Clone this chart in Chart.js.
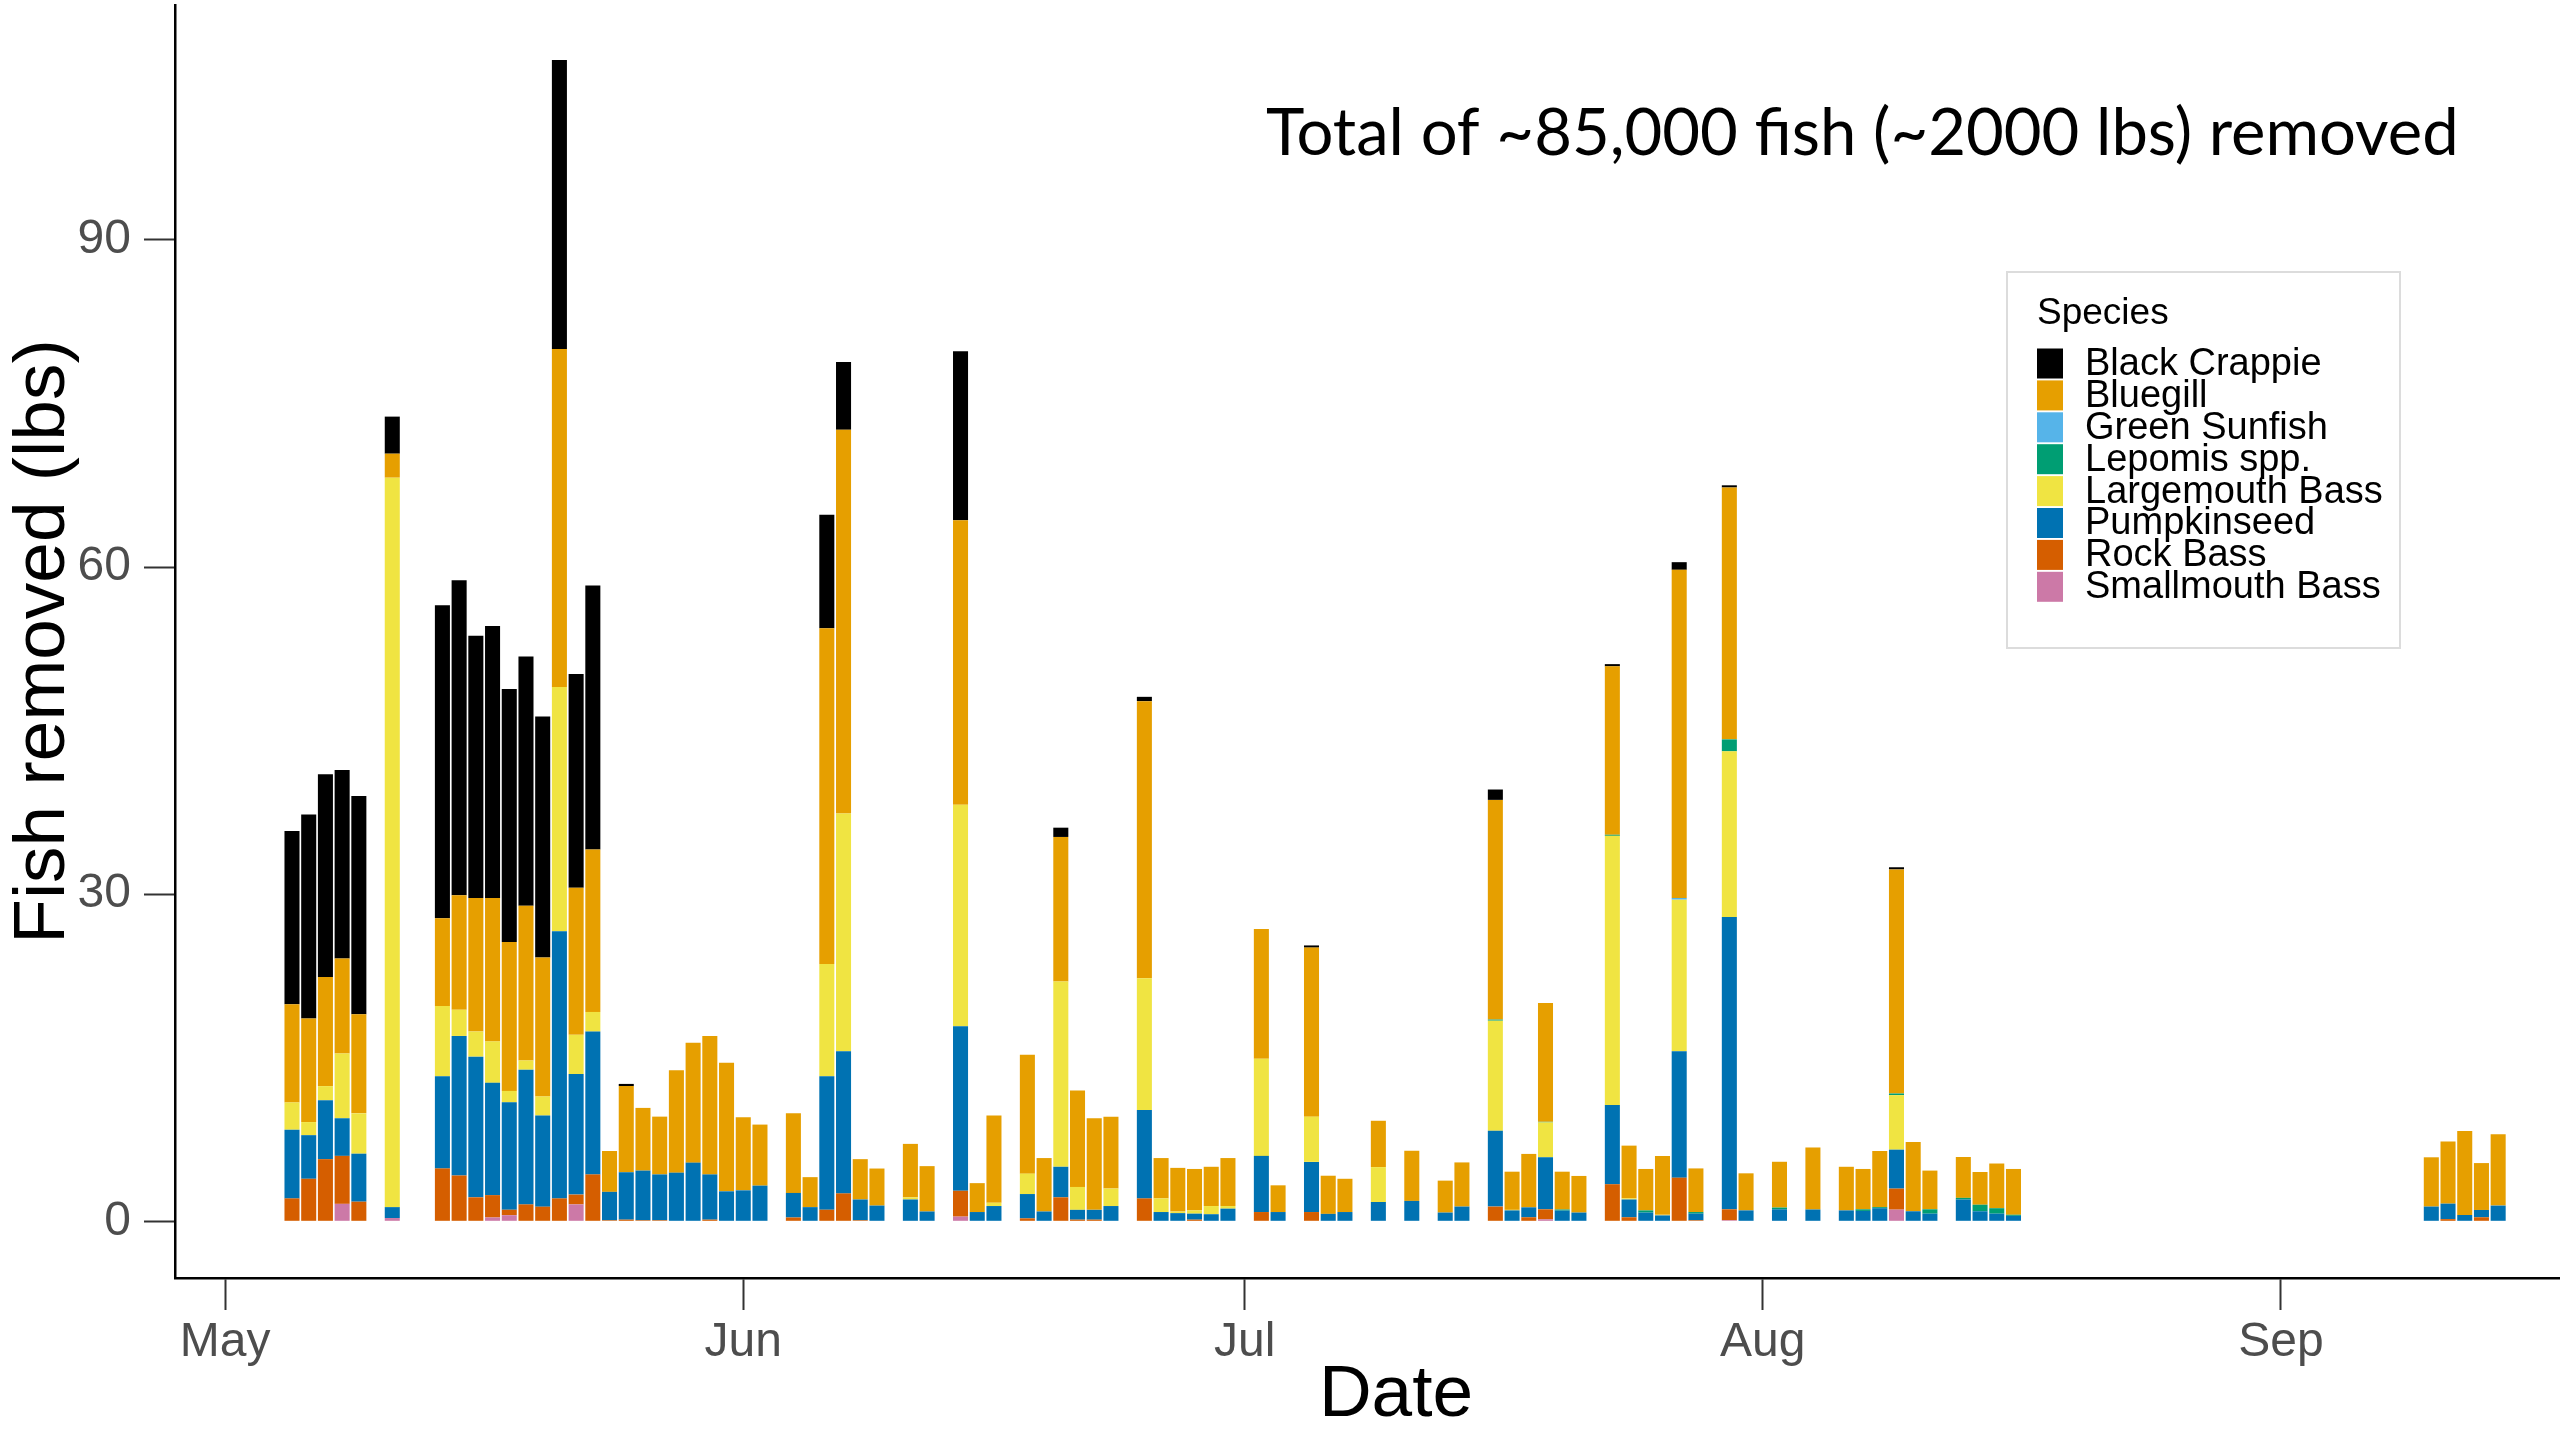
<!DOCTYPE html>
<html><head><meta charset="utf-8">
<script src="https://cdn.jsdelivr.net/npm/chart.js@4.4.1/dist/chart.umd.min.js"></script>
<style>html,body{margin:0;padding:0;background:#fff;}canvas{display:block;}</style>
</head><body>
<canvas id="c" width="2560" height="1440"></canvas>
<script>
// ---- data (month-day of each sampling date) ----
const dates = ['05-05','05-06','05-07','05-08','05-09','05-11',
'05-14','05-15','05-16','05-17','05-18','05-19','05-20','05-21','05-22','05-23',
'05-24','05-25','05-26','05-27','05-28','05-29','05-30','05-31',
'06-01','06-02','06-04','06-05','06-06','06-07','06-08','06-09','06-11','06-12','06-14','06-15','06-16','06-18','06-19','06-20','06-21','06-22','06-23','06-25','06-26','06-27','06-28','06-29','06-30',
'07-02','07-03','07-05','07-06','07-07','07-09','07-11','07-13','07-14','07-16','07-17','07-18','07-19','07-20','07-21','07-23','07-24','07-25','07-26','07-27','07-28','07-30','07-31',
'08-02','08-04','08-06','08-07','08-08','08-09','08-10','08-11','08-13','08-14','08-15','08-16',
'09-10','09-11','09-12','09-13','09-14'];

const smallmouthBass = [0,0,0,1.6,0,0.3,
0,0,0,0.35,0.56,0,0,0,1.55,0,
0,0,0,0,0,0,0,0,
0,0,0,0,0,0,0,0,0,0,0.43,0,0,0,0,0,0,0,0,0,0,0,0,0,0,
0,0,0,0,0,0,0,0,0,0,0,0,0.18,0,0,0,0,0,0,0,0,0.1,0,
0,0,0,0,0,1.07,0,0,0,0,0,0,
0,0,0,0,0];
const rockBass = [2.1,3.9,5.7,4.4,1.8,0,
4.85,4.2,2.2,2.05,0.5,1.55,1.34,2.1,0.9,4.3,
0.1,0.15,0.1,0.1,0,0,0.15,0,
0,0,0.35,0,1.06,2.56,0.1,0,0,0,2.37,0,0,0.27,0,2.2,0.15,0.15,0,2.1,0,0,0.15,0,0,
0.85,0,0.85,0,0,0,0,0,0,1.35,0,0.37,0.92,0,0,3.4,0.37,0,0,4.0,0.1,1.0,0,
0,0,0,0,0,1.93,0,0,0,0,0,0,
0,0.2,0,0.37,0];
const pumpkinseed = [6.3,4.0,5.4,3.45,4.4,1.0,
8.45,12.8,12.9,10.3,9.85,12.35,8.36,24.5,11.05,13.1,
2.6,4.35,4.55,4.2,4.46,5.38,4.15,2.75,
2.84,3.27,2.25,1.3,12.24,13.04,1.9,1.44,2.0,0.9,15.1,0.85,1.4,2.23,0.9,2.8,0.9,0.9,1.4,8.1,0.85,0.75,0.55,0.65,1.16,
5.15,0.85,4.6,0.68,0.85,1.77,1.87,0.8,1.35,6.95,1.0,0.91,4.77,0.98,0.8,7.27,1.63,0.8,0.54,11.6,0.6,26.8,1.0,
1.1,1.08,1.0,0.95,1.2,3.57,0.92,0.7,2.0,0.92,0.7,0.5,
1.35,1.42,0.58,0.67,1.44];
const largemouthBass = [2.5,1.2,1.3,5.95,3.7,66.9,
6.45,2.4,2.3,3.8,1.05,0.85,1.75,22.4,3.6,1.8,
0,0,0,0,0,0,0,0,
0,0,0,0,10.3,21.8,0,0,0.2,0,20.3,0,0.3,1.87,0,17.0,2.1,0,1.6,12.1,1.25,0.15,0.3,0.75,0.24,
8.9,0,4.15,0,0,3.2,0,0,0,10.1,0.05,0,3.2,0,0,24.68,0.1,0,0.05,13.9,0,15.2,0,
0,0,0,0,0,5.0,0,0,0,0,0,0,
0,0,0,0,0];
const lepomisSpp = [0,0,0,0,0,0,
0,0,0,0,0,0,0,0,0,0,
0,0,0,0,0,0,0,0,
0,0,0,0,0,0,0,0,0,0,0,0,0,0,0,0,0,0,0,0,0,0,0,0,0,
0,0,0,0,0,0,0,0,0,0.1,0,0,0.05,0.1,0,0.1,0,0.2,0,0,0.15,1.1,0,
0.16,0,0,0.15,0.1,0.15,0,0.4,0.15,0.6,0.5,0.1,
0,0,0,0,0];
const greenSunfish = [0,0,0,0,0,0,
0,0,0,0,0,0,0,0,0,0,
0,0,0,0,0,0,0,0,
0,0,0,0,0,0,0,0,0,0,0,0,0,0,0,0,0,0,0,0,0,0,0,0,0,
0,0,0,0,0,0,0,0,0,0,0,0,0,0,0,0,0,0,0,0.15,0,0,0,
0,0,0,0,0,0,0,0,0,0,0,0,
0,0,0,0,0];
const bluegill = [9.0,9.5,10.0,8.7,9.1,2.2,
8.05,10.5,12.25,13.15,13.65,14.2,12.75,31.0,13.5,14.9,
3.75,7.9,5.75,5.3,9.4,11.0,12.7,11.8,
6.7,5.6,7.3,2.75,30.8,35.2,3.7,3.4,4.9,4.16,26.1,2.65,8.0,10.9,4.9,13.25,8.85,8.4,6.6,25.4,3.7,4.0,3.8,3.6,4.4,
11.9,2.45,15.5,3.5,3.05,4.25,4.6,2.93,4.05,20.15,3.5,4.9,10.9,3.47,3.36,15.45,4.84,3.8,5.4,30.1,4.0,23.1,3.4,
4.2,5.69,4.0,3.7,5.15,20.55,6.36,3.55,3.75,3.0,4.1,4.2,
4.52,5.7,7.7,4.3,6.55];
const blackCrappie = [15.9,18.7,18.6,17.3,20.0,3.4,
28.7,28.9,24.05,24.95,23.2,22.85,22.1,26.5,19.6,24.2,
0,0.2,0,0,0,0,0,0,
0,0,0,0,10.4,6.2,0,0,0,0,15.5,0,0,0,0,0.85,0,0,0,0.4,0,0,0,0,0,
0,0,0.2,0,0,0,0,0,0,0.95,0,0,0,0,0,0.2,0,0,0,0.7,0,0.2,0,
0,0,0,0,0,0.2,0,0,0,0,0,0,
0,0,0,0,0];

// legend order (top of stack first) and colours
const speciesNames = ['Black Crappie','Bluegill','Green Sunfish','Lepomis spp.','Largemouth Bass','Pumpkinseed','Rock Bass','Smallmouth Bass'];
const speciesColors = ['#000000','#E69F00','#56B4E9','#009E73','#F0E442','#0072B2','#D55E00','#CC79A7'];
const speciesValues = [blackCrappie, bluegill, greenSunfish, lepomisSpp, largemouthBass, pumpkinseed, rockBass, smallmouthBass];

const monthTickDates = ['05-01','06-01','07-01','08-01','09-01'];
const monthTickLabels = ['May','Jun','Jul','Aug','Sep'];
const yTickValues = [0, 30, 60, 90];
const annotationText = 'Total of ~85,000 fish (~2000 lbs) removed';
const legendTitle = 'Species';
const xTitle = 'Date';
const yTitle = 'Fish removed (lbs)';

// ---- helpers ----
function toDay(md) {
  const [m, d] = md.split('-').map(Number);
  return (Date.UTC(2019, m - 1, d) - Date.UTC(2019, 4, 1)) / 864e5;
}
const labels = dates.map(toDay);

// stack bottom-up: reverse of legend order
const datasets = [];
for (let i = speciesNames.length - 1; i >= 0; i--) {
  datasets.push({
    label: speciesNames[i],
    data: speciesValues[i],
    backgroundColor: speciesColors[i],
    borderWidth: 0,
    barPercentage: 0.9,
    categoryPercentage: 1.0
  });
}

const FONT = "'Liberation Sans', Arial, sans-serif";

const overlayPlugin = {
  id: 'overlay',
  afterDraw(chart) {
    const ctx = chart.ctx;
    ctx.save();
    // x-axis title (centred as in the original, wider panel)
    ctx.fillStyle = '#000';
    ctx.font = '73px ' + FONT;
    ctx.textAlign = 'center';
    ctx.textBaseline = 'middle';
    ctx.fillText(xTitle, 1396, 1396);

    // annotation text
    let size = 66;
    ctx.font = size + "px Lato, 'Open Sans', sans-serif";
    const w = ctx.measureText(annotationText).width;
    size = size * 1193 / w;
    ctx.font = size + "px Lato, 'Open Sans', sans-serif";
    ctx.textAlign = 'left';
    ctx.textBaseline = 'alphabetic';
    ctx.fillText(annotationText, 1266, 155);

    // legend
    const bx = 2007, by = 272, bw = 393, bh = 376;
    ctx.fillStyle = '#ffffff';
    ctx.fillRect(bx, by, bw, bh);
    ctx.strokeStyle = '#dcdcdc';
    ctx.lineWidth = 2;
    ctx.strokeRect(bx, by, bw, bh);
    ctx.fillStyle = '#000';
    ctx.textBaseline = 'middle';
    ctx.font = '37px ' + FONT;
    ctx.fillText(legendTitle, 2037, 314);
    ctx.font = '38px ' + FONT;
    const legendItems = chart.data.datasets.slice().reverse();
    legendItems.forEach((ds, i) => {
      const cy = 363.5 + i * 31.9;
      ctx.fillStyle = ds.backgroundColor;
      ctx.fillRect(2037, cy - 15, 26, 30);
      ctx.fillStyle = '#000';
      ctx.fillText(ds.label, 2085, cy + 1);
    });
    ctx.restore();
  }
};

new Chart(document.getElementById('c'), {
  type: 'bar',
  data: { labels: labels, datasets: datasets },
  plugins: [overlayPlugin],
  options: {
    responsive: false,
    animation: false,
    devicePixelRatio: 1,
    layout: { padding: { top: 5, left: 0, right: 0, bottom: 0 } },
    plugins: { legend: { display: false }, tooltip: { enabled: false } },
    scales: {
      x: {
        type: 'linear',
        stacked: true,
        offset: false,
        min: -3.0,
        max: 139.7,
        afterBuildTicks: s => { s.ticks = monthTickDates.map(d => ({ value: toDay(d) })); },
        ticks: {
          callback: (v, i) => monthTickLabels[i],
          font: { family: FONT, size: 48 },
          color: '#4d4d4d',
          padding: 4,
          maxRotation: 0,
          autoSkip: false
        },
        grid: { drawOnChartArea: false, offset: false, tickLength: 32, tickColor: '#333333', tickWidth: 2 },
        border: { display: true, color: '#000000', width: 2.5 },
        title: { display: false },
        afterFit: s => { s.height = 162; s.paddingLeft = 0; s.paddingRight = 0; }
      },
      y: {
        stacked: true,
        min: -5.2,
        max: 111.55,
        afterBuildTicks: s => { s.ticks = yTickValues.map(v => ({ value: v })); },
        ticks: { font: { family: FONT, size: 48 }, color: '#4d4d4d', padding: 13 },
        grid: { drawOnChartArea: false, tickLength: 31, tickColor: '#333333', tickWidth: 2 },
        border: { display: true, color: '#000000', width: 2.5 },
        title: { display: true, text: yTitle, font: { family: FONT, size: 73 }, color: '#000', padding: 0 },
        afterFit: s => { s.width = 175; s.paddingTop = 0; s.paddingBottom = 0; }
      }
    }
  }
});
</script>
</body></html>
